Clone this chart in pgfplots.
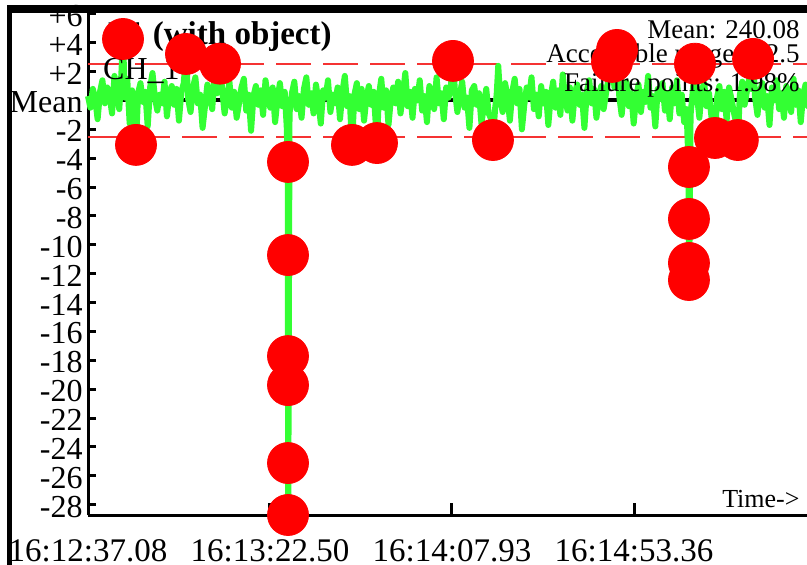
\documentclass[border=0pt]{standalone}
\usepackage{pgfplots}
\pgfplotsset{compat=1.18}
\usepackage{fontspec}
\setmainfont{Liberation Serif}
\definecolor{SigGreen}{RGB}{51,255,51}
\definecolor{FailRed}{RGB}{255,0,0}
\definecolor{LimitRed}{RGB}{245,50,50}

\begin{document}
\begin{tikzpicture}
\useasboundingbox (0pt,0pt) rectangle (403.5pt,-282.5pt);
\begin{axis}[
	at={(44pt,-257.5pt)}, anchor=south west,
	scale only axis,
	width=363.5pt, height=251pt,
	xmin=0, xmax=181.46,
	ymin=-28.72, ymax=6.06,
	clip=false,
	axis x line=bottom,
	axis y line=left,
	axis line style={-, line width=1.5pt},
	tick align=inside,
	major tick style={line width=1.5pt, black},
	xtick={0,45.42,90.85,136.28},
	xticklabels={16:12:37.08,16:13:22.50,16:14:07.93,16:14:53.36},
	xtick style={/pgfplots/major tick length=6pt},
	ytick style={/pgfplots/major tick length=4pt},
	ytick={-28,-26,-24,-22,-20,-18,-16,-14,-12,-10,-8,-6,-4,-2,0,2,4,6},
	yticklabels={-28,-26,-24,-22,-20,-18,-16,-14,-12,-10,-8,-6,-4,-2,Mean,+2,+4,+6},
	ticklabel style={inner sep=0pt},
	xticklabel style={font=\fontsize{16.5}{17}\selectfont, yshift=-12pt},
	yticklabel style={font=\fontsize{16}{17}\selectfont, xshift=-2.5pt, yshift=-1pt},
]
% acceptable range
\addplot[LimitRed, line width=1pt, dash pattern=on 17.5pt off 6pt] coordinates {(0,2.5) (181.46,2.5)};
\addplot[LimitRed, line width=1pt, dash pattern=on 17.5pt off 6pt] coordinates {(0,-2.5) (181.46,-2.5)};
% mean
\addplot[black, line width=2pt] coordinates {(0,0) (181.46,0)};
% signal (deviation from mean)
\addplot[SigGreen, line width=3pt, line join=round] coordinates {
(0,0.3) (0.6,-0.5) (1.2,0.8) (1.8,0.1) (2.4,-1.3) (3.0,0.6) (3.6,1.4) (4.2,-0.2)
(4.8,0.9) (5.4,0.3) (6.0,-0.9) (6.6,1.7) (7.2,0.4) (7.8,-0.6) (8.2,1.1) (8.74,4.26)
(9.2,0.2) (9.8,1.5) (10.4,-1.6) (11.0,0.7) (11.5,-0.4) (11.98,-3.08) (12.5,0.5) (13.1,1.2)
(13.7,-0.1) (14.3,0.6) (14.9,-1.8) (15.5,0.9) (16.1,1.9) (16.7,0.2) (17.3,-0.7) (17.9,0.4)
(18.5,-0.2) (19.1,1.3) (19.7,-1.1) (20.3,0.5) (20.9,1.0) (21.5,-0.3) (22.1,0.8) (22.7,-1.4)
(23.3,0.6) (23.9,1.2) (24.46,3.22) (25.0,0.1) (25.6,-0.8) (26.2,0.9) (26.8,1.6) (27.4,-0.2)
(28.0,0.4) (28.6,-1.9) (29.2,-0.4) (29.8,1.1) (30.4,0.3) (31.0,-0.6) (31.6,1.8) (32.2,0.5)
(32.95,2.55) (33.5,0.7) (34.1,-0.9) (34.7,0.2) (35.3,1.3) (35.9,-0.5) (36.5,0.6) (37.1,-1.2)
(37.7,-0.2) (38.3,0.9) (38.9,1.5) (39.5,-0.7) (40.1,0.4) (40.7,-2.1) (41.3,0.3) (41.9,1.0)
(42.5,-0.3) (43.1,0.7) (43.7,-1.0) (44.3,1.4) (44.9,0.2) (45.5,-0.5) (46.1,0.9) (46.7,-1.5)
(47.3,0.1) (47.9,1.2) (48.5,-0.4) (49.1,0.6) (49.6,-1.8)
(49.85,-4.26) (49.88,-10.71) (49.9,-17.71) (49.92,-19.72) (49.95,-25.12) (49.98,-28.72)
(50.3,-0.9) (50.9,0.5) (51.5,1.3) (52.1,-0.6) (52.7,0.3) (53.3,-1.2) (53.9,0.8) (54.5,1.6)
(55.1,-0.3) (55.7,0.5) (56.3,-0.9) (56.9,1.1) (57.5,0.0) (58.1,-1.6) (58.7,0.7) (59.3,0.2)
(59.9,1.4) (60.5,-0.8) (61.1,0.4) (61.7,-0.2) (62.3,0.9) (62.9,-1.3) (63.5,0.6) (64.1,1.7)
(64.7,-0.4) (65.3,0.3) (65.89,-3.08) (66.5,0.4) (67.1,1.2) (67.7,-0.6) (68.3,0.8) (68.9,-1.4)
(69.5,0.2) (70.1,1.0) (70.7,-0.3) (71.3,0.6) (71.7,-1.1) (72.13,-2.95) (72.6,0.3) (73.2,1.5)
(73.8,-0.5) (74.4,0.7) (75.0,-1.7) (75.6,0.1) (76.2,0.9) (76.8,-0.2) (77.4,1.3) (78.0,-0.9)
(78.6,0.4) (79.2,1.9) (79.8,-0.4) (80.4,0.6) (81.0,-1.2) (81.6,0.8) (82.2,0.0) (82.8,1.4)
(83.4,-0.7) (84.0,0.3) (84.6,-1.5) (85.2,1.0) (85.8,0.4) (86.4,-0.6) (87.0,1.6) (87.6,-0.2)
(88.2,0.5) (88.8,-1.3) (89.4,0.9) (90.0,0.2) (90.6,1.1) (91.1,2.74) (91.6,0.6) (92.2,-0.8)
(92.8,0.4) (93.4,1.3) (94.0,-0.5) (94.6,0.2) (95.2,-1.9) (95.8,0.7) (96.4,1.0) (97.0,-0.3)
(97.6,0.5) (98.2,-1.6) (98.8,-0.4) (99.4,0.8) (100.0,-0.9) (100.5,-1.2) (101.08,-2.74) (101.6,-0.6)
(102.0,0.4) (102.4,2.4) (102.9,0.1) (103.5,-0.8) (104.1,1.2) (104.7,0.3) (105.3,-1.4) (105.9,0.6)
(106.5,1.5) (107.1,-0.2) (107.7,0.8) (108.3,-2.0) (108.9,-0.3) (109.5,0.9) (110.1,0.2) (110.7,1.6)
(111.3,-0.6) (111.9,0.4) (112.5,-1.1) (113.1,1.0) (113.7,-0.2) (114.3,0.6) (114.9,-1.7) (115.5,0.3)
(116.1,1.3) (116.7,-0.5) (117.3,0.7) (117.9,-1.0) (118.5,1.8) (119.1,0.1) (119.7,-0.7) (120.3,0.9)
(120.9,-1.4) (121.5,0.5) (122.1,1.1) (122.7,-0.3) (123.3,0.4) (123.9,-1.9) (124.5,0.6) (125.1,1.4)
(125.7,-0.2) (126.3,0.8) (126.9,-1.2) (127.5,0.2) (128.1,1.0) (128.7,-0.6) (129.3,0.5) (129.9,1.5)
(130.8,2.67) (131.4,0.9) (132.04,3.5) (132.6,0.3) (133.2,-1.0) (133.8,0.7) (134.4,1.3) (135.0,-0.4)
(135.6,0.5) (136.2,-1.6) (136.8,0.2) (137.4,1.1) (138.0,-0.8) (138.6,0.6) (139.2,-0.1) (139.8,1.7)
(140.4,-0.5) (141.0,0.3) (141.6,-1.8) (142.2,0.8) (142.8,0.1) (143.4,1.2) (144.0,-0.7) (144.6,0.5)
(145.2,-1.3) (145.8,0.9) (146.4,-0.2) (147.0,1.4) (147.6,-0.9) (148.2,0.4) (148.8,-1.5) (149.4,-0.6)
(149.9,-4.61) (149.95,-8.21) (150.0,-11.26) (150.05,-12.44) (150.4,-1.0) (151.0,0.8) (151.5,2.55) (152.0,0.3)
(152.6,-1.2) (153.2,0.7) (153.8,1.2) (154.4,-0.4) (155.0,0.5) (155.6,-1.1) (156.0,-1.6) (156.5,-2.6)
(157.0,0.2) (157.6,1.0) (158.2,-0.6) (158.8,0.6) (159.4,-1.4) (160.0,0.9) (160.6,0.1) (161.2,-0.8)
(161.7,-1.5) (162.2,-2.74) (162.7,0.4) (163.3,1.3) (163.9,-0.3) (164.5,0.7) (165.1,1.6) (165.5,0.8)
(166.0,2.88) (166.5,0.2) (167.1,-1.0) (167.7,0.6) (168.3,1.2) (168.9,-0.5) (169.5,0.3) (170.1,-1.7)
(170.7,0.9) (171.3,0.0) (171.9,1.4) (172.5,-0.6) (173.1,0.5) (173.7,-1.2) (174.3,1.0) (174.9,0.2)
(175.5,-0.8) (176.1,1.5) (176.7,-0.3) (177.3,0.7) (177.9,-1.5) (178.5,0.4) (179.1,1.1) (179.7,-0.4)
(180.3,0.6) (180.9,-1.0) (181.4,0.3)
};
% texts
\node[anchor=base west, font=\fontsize{16.5}{18}\selectfont\bfseries] at (axis cs:3.24,3.85) {P1 (with object)};
\node[anchor=base west, inner sep=0pt, font=\fontsize{16}{18}\selectfont] at (axis cs:3.7,1.42) {CH\_1};
\node[anchor=base east, inner sep=0pt, font=\fontsize{13.5}{15}\selectfont] at (axis cs:177.7,4.26) {Mean: 240.08};
\node[anchor=base east, inner sep=0pt, font=\fontsize{13.5}{15}\selectfont] at (axis cs:177.7,2.6) {Acceptable range: ±2.5};
\node[anchor=base east, inner sep=0pt, font=\fontsize{13.5}{15}\selectfont] at (axis cs:177.7,0.59) {Failure points: 1.98\%};
\node[anchor=base east, inner sep=0pt, font=\fontsize{13}{15}\selectfont] at (axis cs:177.7,-28.17) {Time->};
% failure points
\addplot[only marks, mark=*, mark size=10.25pt, mark options={fill=FailRed, draw=FailRed}] coordinates {
(8.74,4.26) (11.98,-3.08) (24.46,3.22) (32.95,2.55)
(49.92,-4.26) (49.92,-10.71) (49.92,-17.71) (49.92,-19.72) (49.92,-25.12) (49.92,-28.72)
(65.89,-3.08) (72.13,-2.95) (91.1,2.74) (101.08,-2.74)
(130.8,2.67) (132.04,3.5) (151.5,2.55) (166.0,2.88)
(150.0,-4.61) (150.0,-8.21) (150.0,-11.26) (150.0,-12.44)
(156.5,-2.6) (162.2,-2.74)
};
\end{axis}
% frame remains of the outer window
\fill[black] (3.5pt,-2.5pt) rectangle (420pt,-6.3pt);
\fill[black] (3.5pt,-2.5pt) rectangle (6pt,-300pt);
\end{tikzpicture}
\end{document}
